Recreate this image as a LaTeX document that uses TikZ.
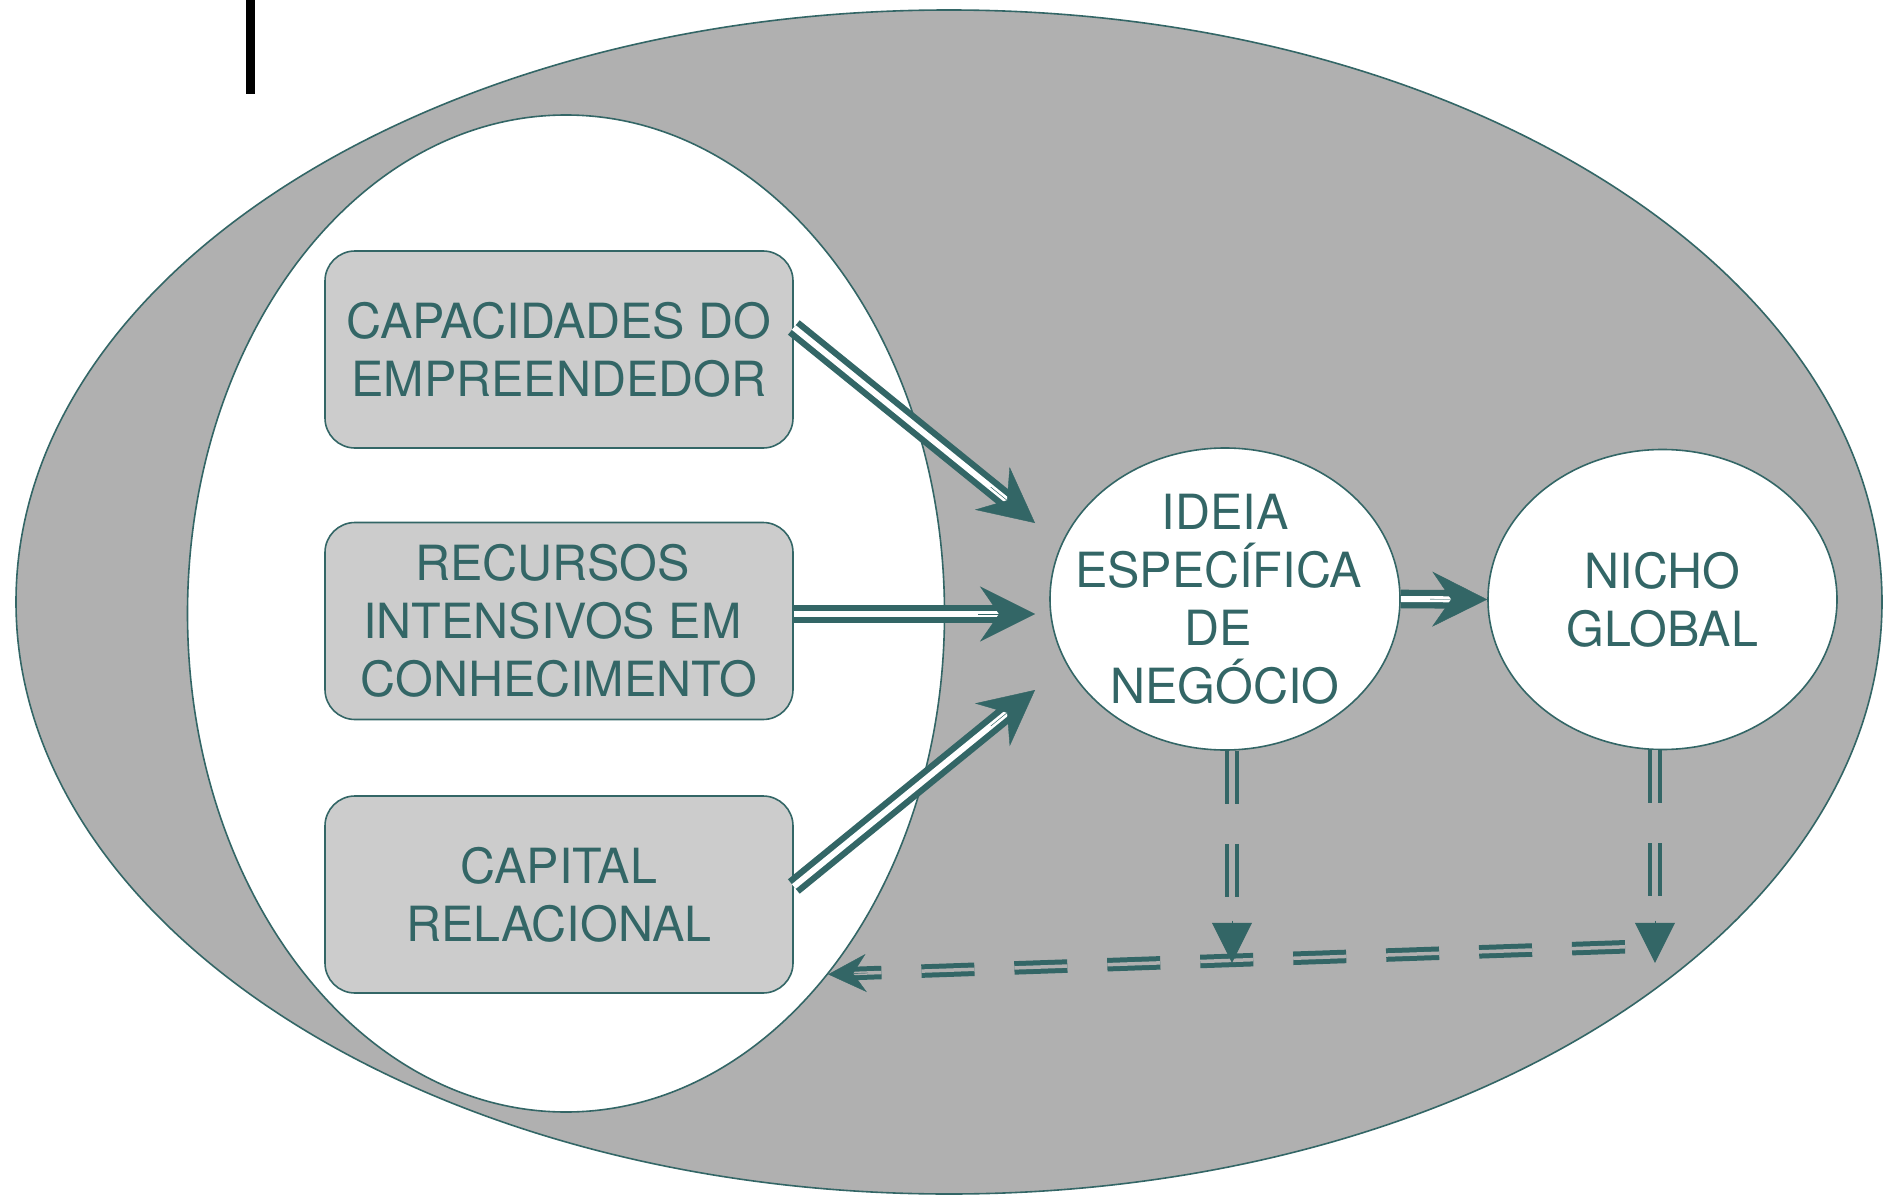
\documentclass[tikz,border=0pt]{standalone}
\usepackage{fontspec}
\setmainfont{TeX Gyre Heros}
\usetikzlibrary{shapes.geometric,arrows.meta,calc}
\definecolor{tealc}{RGB}{51,102,102}
\definecolor{grayc}{RGB}{176,176,176}
\definecolor{boxc}{RGB}{204,204,204}
\newcommand{\tsp}{\rule{13pt}{0pt}}
\begin{document}
\begin{tikzpicture}[x=1pt,y=-1pt,
  txt/.style={text=tealc, font=\fontsize{48.5}{58}\selectfont, align=center},
  oval/.style={ellipse, draw=tealc, line width=1.6pt, inner sep=0pt},
  box/.style={rectangle, rounded corners=30pt, draw=tealc, line width=1.6pt, fill=boxc,
              minimum width=468pt, minimum height=197pt, inner sep=0pt, txt},
  shaft/.style={draw=tealc, line width=6.3pt, double=white, double distance=6pt, shorten >=36pt},
  bigtip/.style={draw=tealc, fill=tealc, line width=0.4pt, -{Stealth[length=55pt,width=55pt,inset=19pt]}},
  vshaft/.style={draw=tealc, line width=4.3pt, double=grayc, double distance=5.7pt,
                 dash pattern=on 53pt off 40pt, shorten >=40pt},
  vtip/.style={draw=tealc, fill=tealc, line width=0.4pt, -{Triangle[length=40pt,width=40pt]}},
  hshaft/.style={draw=tealc, line width=5pt, double=grayc, double distance=3.5pt,
                 dash pattern=on 53pt off 40pt, shorten >=25pt},
  htip/.style={draw=tealc, fill=tealc, line width=0.4pt, -{Stealth[length=38pt,width=38pt,inset=13pt]}}
]
\useasboundingbox (0,0) rectangle (1891,1196);
\fill[white] (0,0) rectangle (1891,1196);

% big ellipses
\node[oval, fill=grayc, minimum width=1866pt, minimum height=1184pt] (outer) at (949,602) {};
\node[oval, fill=white, minimum width=757pt, minimum height=997pt] (inner) at (566,613.5) {};

% black bar
\fill[black] (246,0) rectangle (255,94);

% boxes
\node[box] (b1) at (559,349.5) {CAPACIDADES DO\\EMPREENDEDOR};
\node[box] (b2) at (559,621) {RECURSOS\tsp\\INTENSIVOS EM\tsp\\CONHECIMENTO};
\node[box] (b3) at (559,894.5) {CAPITAL\\RELACIONAL};

% circles
\node[oval, fill=white, minimum width=350pt, minimum height=302pt] (ideia) at (1225,599) {};
\node[txt, minimum width=340pt, inner sep=0pt] (ideiatxt) at (ideia.center) {IDEIA\\ESPECÍFICA\tsp\\DE\tsp\\NEGÓCIO};
\node[oval, fill=white, minimum width=349pt, minimum height=300pt] (nicho) at (1662.5,599.5) {};
\node[txt] (nichotxt) at (nicho.center) {NICHO\\GLOBAL};

% solid double arrows
\coordinate (a1s) at ($(b1.east)+(0,-22)$);
\coordinate (a1t) at ($(ideia.center)+(-190,-76)$);
\coordinate (a2s) at ($(b2.east)+(0,-7)$);
\coordinate (a2t) at ($(ideia.center)+(-190,15)$);
\coordinate (a3s) at ($(b3.east)+(0,-8)$);
\coordinate (a3t) at ($(ideia.center)+(-190,91)$);
\coordinate (a4s) at (ideia.east);
\coordinate (a4t) at (nicho.west);

\foreach \s/\t in {a1s/a1t, a2s/a2t, a3s/a3t, a4s/a4t}{
  \draw[shaft] (\s) -- (\t);
  \draw[bigtip] ($(\t)!57pt!(\s)$) -- (\t);
}

% dashed connectors
\coordinate (hs) at ($(nicho.south)+(-37.5,196.5)$);
\coordinate (he) at (inner.-54.5);
\draw[hshaft] (hs) -- (he);
\draw[htip] ($(he)!40pt!(hs)$) -- (he);

\coordinate (v1s) at ($(ideia.south)+(7,0)$);
\coordinate (v1e) at ($(ideia.south)+(7,212)$);
\coordinate (v2s) at ($(nicho.south)+(-7.5,0)$);
\coordinate (v2e) at ($(nicho.south)+(-7.5,212.5)$);
\draw[vshaft] (v1s) -- (v1e);
\draw[vtip] ($(v1e)+(0,-42)$) -- (v1e);
\draw[vshaft] (v2s) -- (v2e);
\draw[vtip] ($(v2e)+(0,-42)$) -- (v2e);
\end{tikzpicture}
\end{document}
